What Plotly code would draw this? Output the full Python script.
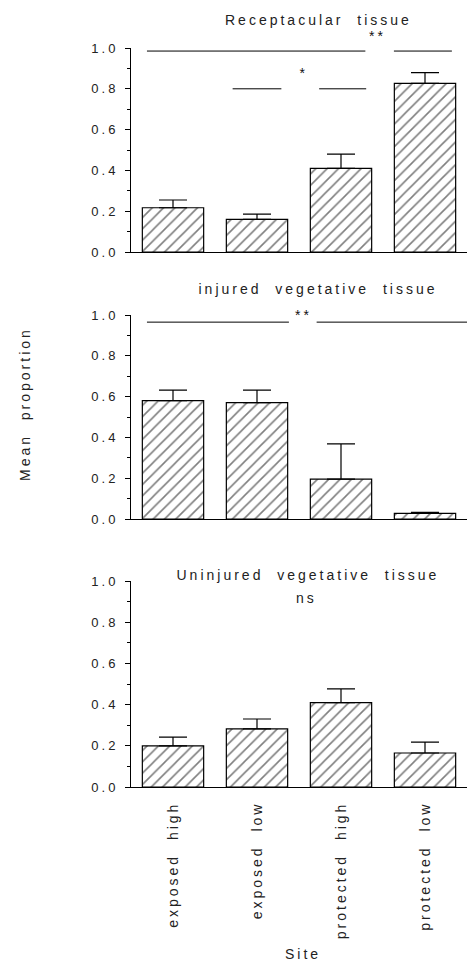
import plotly.graph_objects as go
from plotly.subplots import make_subplots

sites = ["exposed  high", "exposed  low", "protected  high", "protected  low"]

titles = ["Receptacular  tissue", "injured  vegetative  tissue", "Uninjured  vegetative  tissue"]

receptacular_mean = [0.217, 0.160, 0.410, 0.827]
receptacular_se = [0.038, 0.026, 0.070, 0.052]

injured_mean = [0.580, 0.570, 0.195, 0.028]
injured_se = [0.052, 0.062, 0.173, 0.005]

uninjured_mean = [0.200, 0.282, 0.410, 0.165]
uninjured_se = [0.042, 0.048, 0.066, 0.053]

y_ticks = [0.0, 0.2, 0.4, 0.6, 0.8, 1.0]
y_ticklabels = ["0.0", "0.2", "0.4", "0.6", "0.8", "1.0"]

# significance bars: (panel, x0, x1, y)
sig_lines = [
    (1, -0.31, 2.29, 0.985), (1, 2.63, 3.32, 0.985),
    (1, 0.71, 1.29, 0.80), (1, 1.74, 2.30, 0.80),
    (2, -0.31, 1.38, 0.965), (2, 1.71, 3.50, 0.965),
]
# significance marks: (panel, x, y, text)
sig_marks = [
    (1, 2.43, 1.11, "**"),
    (1, 1.56, 0.925, "*"),
    (2, 1.55, 1.05, "**"),
]

FONT = "Liberation Sans, Arial, Helvetica, sans-serif"
H = 962.0
W = 469.0

fig = make_subplots(rows=3, cols=1)

data = [(receptacular_mean, receptacular_se),
        (injured_mean, injured_se),
        (uninjured_mean, uninjured_se)]

for i, (m, se) in enumerate(data, start=1):
    fig.add_trace(go.Bar(
        x=sites, y=m,
        marker=dict(color="white",
                    line=dict(color="black", width=1.2),
                    pattern=dict(shape="/", fgcolor="black", bgcolor="white",
                                 size=8, solidity=0.2)),
        error_y=dict(type="data", symmetric=False, array=se,
                     arrayminus=[0] * len(se), color="black",
                     thickness=1.2, width=14),
        showlegend=False,
    ), row=i, col=1)

# domains in pixel terms
ydom = [(48, 252), (315, 519), (581, 787)]
xdom = [131 / W, 467 / W]

for i in range(1, 4):
    top, bot = ydom[i - 1]
    sfx = "" if i == 1 else str(i)
    fig.layout["yaxis" + sfx].update(
        domain=[1 - bot / H, 1 - top / H], range=[0, 1.0],
        tickvals=y_ticks, ticktext=y_ticklabels,
        ticks="outside", ticklen=5, tickwidth=1, tickcolor="black",
        minor=dict(dtick=0.1, ticks="outside", ticklen=3, tickcolor="black"),
        showline=True, linecolor="black", linewidth=1,
        showgrid=False, zeroline=False, ticklabelstandoff=4,
        tickfont=dict(family=FONT, size=13, color="#222"),
    )
    fig.layout["xaxis" + sfx].update(
        domain=xdom, range=[-0.5, 3.5],
        showline=True, linecolor="black", linewidth=1,
        showgrid=False, zeroline=False, ticks="",
        showticklabels=(i == 3), tickangle=-90, ticklabelstandoff=8,
        tickfont=dict(family=FONT, size=14, color="#222"),
    )

fig.update_layout(bargap=0.27)

for panel, x0, x1, y in sig_lines:
    sfx = "" if panel == 1 else str(panel)
    fig.add_shape(type="line", xref="x" + sfx, yref="y" + sfx,
                  x0=x0, x1=x1, y0=y, y1=y,
                  line=dict(color="black", width=1))

for panel, x, y, t in sig_marks:
    sfx = "" if panel == 1 else str(panel)
    fig.add_annotation(xref="x" + sfx, yref="y" + sfx + " domain", x=x, y=y, text=t,
                       showarrow=False, font=dict(family=FONT, size=14, color="#111"))

title_pos = [(318, 20), (318, 289), (308, 575)]
for (tx, ty), t in zip(title_pos, titles):
    fig.add_annotation(xref="paper", yref="paper", x=tx / W, y=1 - ty / H,
                       text=t, showarrow=False, xanchor="center", yanchor="middle",
                       font=dict(family=FONT, size=14, color="#222"))

fig.add_annotation(xref="paper", yref="paper", x=306 / W, y=1 - 598 / H,
                   text="ns", showarrow=False, xanchor="center", yanchor="middle",
                   font=dict(family=FONT, size=14, color="#222"))

fig.add_annotation(xref="paper", yref="paper", x=303 / W, y=1 - 954 / H,
                   text="Site", showarrow=False, xanchor="center", yanchor="middle",
                   font=dict(family=FONT, size=14, color="#222"))

fig.add_annotation(xref="paper", yref="paper", x=25 / W, y=1 - 404 / H,
                   text="Mean  proportion", showarrow=False, textangle=-90,
                   xanchor="center", yanchor="middle",
                   font=dict(family=FONT, size=14, color="#222"))

fig.update_layout(width=469, height=962,
                  margin=dict(l=0, r=0, t=0, b=0, pad=0, autoexpand=False),
                  paper_bgcolor="white", plot_bgcolor="white")

post = """
document.documentElement.style.margin = '0';
document.documentElement.style.padding = '0';
document.documentElement.style.overflow = 'hidden';
document.body.style.margin = '0';
document.body.style.padding = '0';
var gd = document.getElementById('{plot_id}');
gd.style.position = 'absolute';
gd.style.left = '0px';
gd.style.top = '0px';
function ls(){ gd.querySelectorAll('text').forEach(function(t){ t.style.letterSpacing = '3px'; }); }
ls();
if (gd.on) { gd.on('plotly_afterplot', ls); }
"""

fig.write_html("out.html", post_script=post, config={"displayModeBar": False})
